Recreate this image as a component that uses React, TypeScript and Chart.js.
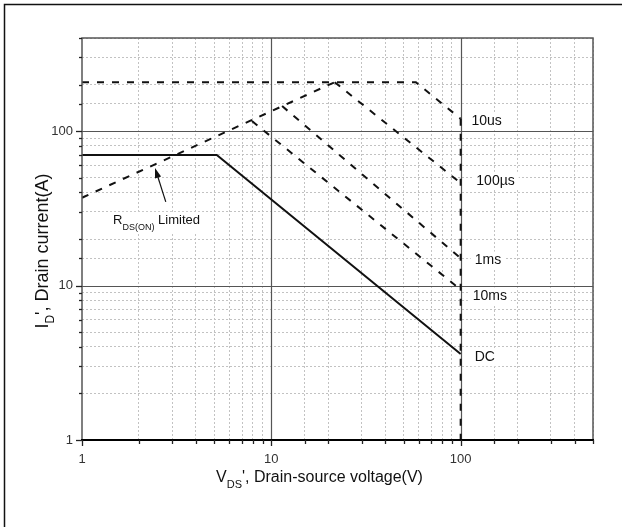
import { useEffect, useRef } from "react";
import { Chart, registerables } from "chart.js";

Chart.register(...registerables);

// ---- data (VDS in V, ID in A) ----
const majorTicks = [1, 10, 100];

const dcV = [1, 5.15, 100];
const dcI = [70, 70, 3.6];
const rdsV = [1, 21.6];
const rdsI = [37, 207];
const us10V = [1, 58, 100];
const us10I = [207, 207, 120];
const us100V = [21.6, 100];
const us100I = [207, 46];
const ms1V = [11.4, 100];
const ms1I = [145, 15];
const ms10V = [7.9, 100];
const ms10I = [116, 9.4];
const bvV = [100, 100];
const bvI = [120, 1];

const curveLabels = ["10us", "100µs", "1ms", "10ms", "DC"];
const curveLabelV = [114, 121, 118.6, 115.7, 118.6];
const curveLabelI = [116, 47.6, 14.5, 8.5, 3.43];

const rdsLabelV = 1.46;
const rdsLabelI = 26.2;
const arrowTailV = 2.77;
const arrowTailI = 34.8;
const arrowTipV = 2.43;
const arrowTipI = 57.7;

const FONT = "'Liberation Sans', Arial, Helvetica, sans-serif";

const pts = (xs: number[], ys: number[]) => xs.map((x, i) => ({ x, y: ys[i] }));
const isMajor = (v: number) => {
  const l = Math.log10(v);
  return Math.abs(l - Math.round(l)) < 1e-9;
};

type Part = { t: string; sub?: boolean };

function richWidth(ctx: CanvasRenderingContext2D, parts: Part[], size: number, subSize: number) {
  let w = 0;
  for (const p of parts) {
    ctx.font = `${p.sub ? subSize : size}px ${FONT}`;
    w += ctx.measureText(p.t).width;
  }
  return w;
}

function drawRich(
  ctx: CanvasRenderingContext2D,
  parts: Part[],
  x: number,
  y: number,
  size: number,
  subSize: number,
  subOffset: number
) {
  let cx = x;
  ctx.textBaseline = "middle";
  ctx.textAlign = "left";
  for (const p of parts) {
    ctx.font = `${p.sub ? subSize : size}px ${FONT}`;
    ctx.fillText(p.t, cx, p.sub ? y + subOffset : y);
    cx += ctx.measureText(p.t).width;
  }
}

const overlay = {
  id: "soaOverlay",
  beforeDatasetsDraw(chart: any) {
    const { ctx, chartArea: a, scales } = chart;
    const xs = scales.x;
    const ys = scales.y;
    ctx.save();
    ctx.strokeStyle = "#555";
    ctx.lineWidth = 1.2;
    ctx.setLineDash([]);
    for (const v of majorTicks) {
      const px = Math.round(xs.getPixelForValue(v)) + 0.5;
      if (px > a.left + 2 && px < a.right - 2) {
        ctx.beginPath();
        ctx.moveTo(px, a.top);
        ctx.lineTo(px, a.bottom);
        ctx.stroke();
      }
      const py = Math.round(ys.getPixelForValue(v)) + 0.5;
      if (py > a.top + 2 && py < a.bottom - 2) {
        ctx.beginPath();
        ctx.moveTo(a.left, py);
        ctx.lineTo(a.right, py);
        ctx.stroke();
      }
    }
    ctx.restore();
  },
  afterDatasetsDraw(chart: any) {
    const { ctx, chartArea: a, scales } = chart;
    const xs = scales.x;
    const ys = scales.y;
    ctx.save();
    ctx.setLineDash([]);

    // frame of the plot
    ctx.strokeStyle = "#555";
    ctx.lineWidth = 1.5;
    ctx.beginPath();
    ctx.moveTo(a.left, a.bottom);
    ctx.lineTo(a.left, a.top);
    ctx.lineTo(a.right, a.top);
    ctx.lineTo(a.right, a.bottom);
    ctx.stroke();
    ctx.strokeStyle = "#000";
    ctx.lineWidth = 2;
    ctx.beginPath();
    ctx.moveTo(a.left - 1, a.bottom);
    ctx.lineTo(a.right + 1, a.bottom);
    ctx.stroke();

    // tick marks
    ctx.strokeStyle = "#222";
    ctx.lineWidth = 1.3;
    for (const t of xs.ticks) {
      const px = Math.round(xs.getPixelForValue(t.value)) + 0.5;
      const len = isMajor(t.value) ? 6 : 4;
      ctx.beginPath();
      ctx.moveTo(px, a.bottom);
      ctx.lineTo(px, a.bottom + len);
      ctx.stroke();
    }
    for (const t of ys.ticks) {
      const py = Math.round(ys.getPixelForValue(t.value)) + 0.5;
      const len = isMajor(t.value) ? 6 : 3;
      ctx.beginPath();
      ctx.moveTo(a.left - len, py);
      ctx.lineTo(a.left, py);
      ctx.stroke();
    }

    // curve labels
    ctx.font = `14px ${FONT}`;
    ctx.textBaseline = "middle";
    ctx.textAlign = "left";
    curveLabels.forEach((txt, i) => {
      const x = xs.getPixelForValue(curveLabelV[i]);
      const y = ys.getPixelForValue(curveLabelI[i]);
      const w = ctx.measureText(txt).width;
      ctx.fillStyle = "#fff";
      ctx.fillRect(x - 4, y - 9, w + 8, 18);
      ctx.fillStyle = "#111";
      ctx.fillText(txt, x, y);
    });

    // RDS(ON) limited label
    const rParts: Part[] = [{ t: "R" }, { t: "DS(ON)", sub: true }, { t: " Limited" }];
    const rx = xs.getPixelForValue(rdsLabelV);
    const ry = ys.getPixelForValue(rdsLabelI);
    const rw = richWidth(ctx, rParts, 13, 9);
    ctx.fillStyle = "#fff";
    ctx.fillRect(rx - 3, ry - 9, rw + 6, 22);
    ctx.fillStyle = "#111";
    drawRich(ctx, rParts, rx, ry, 13, 9, 7);

    // arrow
    const tx = xs.getPixelForValue(arrowTailV);
    const ty = ys.getPixelForValue(arrowTailI);
    const hx = xs.getPixelForValue(arrowTipV);
    const hy = ys.getPixelForValue(arrowTipI);
    const ang = Math.atan2(hy - ty, hx - tx);
    const hl = 10;
    const hw = 3.2;
    ctx.strokeStyle = "#111";
    ctx.lineWidth = 1.2;
    ctx.beginPath();
    ctx.moveTo(tx, ty);
    ctx.lineTo(hx - Math.cos(ang) * hl * 0.8, hy - Math.sin(ang) * hl * 0.8);
    ctx.stroke();
    ctx.fillStyle = "#111";
    ctx.beginPath();
    ctx.moveTo(hx, hy);
    ctx.lineTo(hx - Math.cos(ang) * hl - Math.sin(ang) * hw, hy - Math.sin(ang) * hl + Math.cos(ang) * hw);
    ctx.lineTo(hx - Math.cos(ang) * hl + Math.sin(ang) * hw, hy - Math.sin(ang) * hl - Math.cos(ang) * hw);
    ctx.closePath();
    ctx.fill();

    ctx.restore();
  },
  afterDraw(chart: any) {
    const { ctx, chartArea: a } = chart;
    ctx.save();
    ctx.setLineDash([]);
    // page frame (left and top)
    ctx.strokeStyle = "#111";
    ctx.lineWidth = 1.5;
    ctx.beginPath();
    ctx.moveTo(4.5, chart.height);
    ctx.lineTo(4.5, 4.5);
    ctx.lineTo(chart.width, 4.5);
    ctx.stroke();

    // x axis title
    ctx.fillStyle = "#111";
    const xParts: Part[] = [{ t: "V" }, { t: "DS", sub: true }, { t: "', Drain-source voltage(V)" }];
    const xw = richWidth(ctx, xParts, 16, 11);
    const xc = (a.left + a.right) / 2 - 18;
    drawRich(ctx, xParts, xc - xw / 2, a.bottom + 38, 16, 11, 7);

    // y axis title
    const yParts: Part[] = [{ t: "I" }, { t: "D", sub: true }, { t: "', Drain current(A)" }];
    const yw = richWidth(ctx, yParts, 18, 12);
    ctx.translate(43, 251);
    ctx.rotate(-Math.PI / 2);
    drawRich(ctx, yParts, -yw / 2, 0, 18, 12, 8);
    ctx.restore();
  },
};

export default function App() {
  const ref = useRef<HTMLCanvasElement>(null);
  useEffect(() => {
    const canvas = ref.current;
    if (!canvas) return;
    const dash = [7, 8];
    const common = {
      showLine: true,
      pointRadius: 0,
      pointHoverRadius: 0,
      borderColor: "#111",
      backgroundColor: "#111",
      borderWidth: 2,
      tension: 0,
      fill: false,
    };
    const chart = new Chart(canvas, {
      type: "scatter",
      data: {
        datasets: [
          { ...common, label: "DC", data: pts(dcV, dcI), borderDash: [] },
          { ...common, label: "RDS(ON) Limited", data: pts(rdsV, rdsI), borderDash: dash },
          { ...common, label: "10us", data: pts(us10V, us10I), borderDash: dash },
          { ...common, label: "100µs", data: pts(us100V, us100I), borderDash: dash },
          { ...common, label: "1ms", data: pts(ms1V, ms1I), borderDash: dash },
          { ...common, label: "10ms", data: pts(ms10V, ms10I), borderDash: dash },
          { ...common, label: "BVDSS", data: pts(bvV, bvI), borderDash: dash },
        ] as any,
      },
      plugins: [overlay as any],
      options: {
        animation: false,
        responsive: false,
        devicePixelRatio: 1,
        layout: { padding: { top: 38, right: 29, left: 0, bottom: 0 } },
        plugins: {
          legend: { display: false },
          tooltip: { enabled: false },
          title: { display: false },
        },
        scales: {
          x: {
            type: "logarithmic",
            min: 1,
            max: 500,
            afterFit: (s: any) => {
              s.height = 87;
            },
            ticks: {
              autoSkip: false,
              maxRotation: 0,
              padding: 12,
              color: "#333",
              font: { family: FONT, size: 13 },
              callback: (v: any) => (isMajor(Number(v)) ? String(v) : ""),
            },
            grid: {
              drawTicks: false,
              lineWidth: 1,
              color: (c: any) => (c.tick && isMajor(c.tick.value) ? "rgba(0,0,0,0)" : "#c2c2c2"),
            },
            border: { display: false, dash: [2, 2] },
          },
          y: {
            type: "logarithmic",
            min: 1,
            max: 400,
            afterFit: (s: any) => {
              s.width = 82;
            },
            ticks: {
              autoSkip: false,
              padding: 9,
              color: "#333",
              font: { family: FONT, size: 13 },
              callback: (v: any) => (isMajor(Number(v)) ? String(v) : ""),
            },
            grid: {
              drawTicks: false,
              lineWidth: 1,
              color: (c: any) => (c.tick && isMajor(c.tick.value) ? "rgba(0,0,0,0)" : "#c2c2c2"),
            },
            border: { display: false, dash: [2, 2] },
          },
        },
      } as any,
    });
    return () => chart.destroy();
  }, []);
  return (
    <div style={{ position: "absolute", left: 0, top: 0, width: 622, height: 527, background: "#fff" }}>
      <canvas ref={ref} width={622} height={527} style={{ display: "block", width: 622, height: 527 }} />
    </div>
  );
}
